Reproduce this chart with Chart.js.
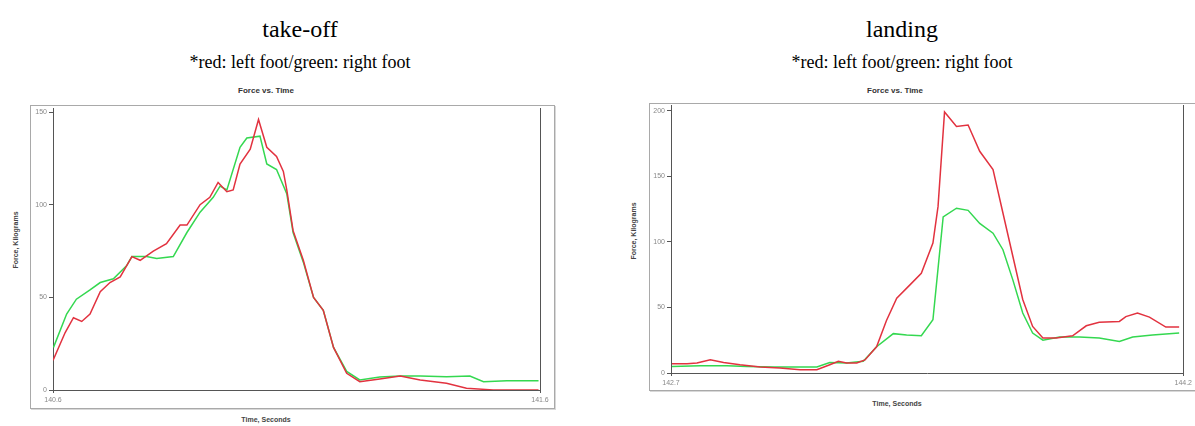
<!DOCTYPE html>
<html>
<head>
<meta charset="utf-8">
<script src="https://cdn.jsdelivr.net/npm/chart.js@4.4.1/dist/chart.umd.min.js"></script>
<style>
  html, body { margin:0; padding:0; background:#fff; width:1195px; height:426px; overflow:hidden; }
  .abs { position:absolute; }
  .h1 { font-family:"Liberation Serif", "Times New Roman", serif; font-size:24px; color:#000; white-space:nowrap; transform:translate(-50%,-50%); }
  .h2 { font-family:"Liberation Serif", "Times New Roman", serif; font-size:18px; color:#000; white-space:nowrap; transform:translate(-50%,-50%); }
  .ct { font-family:"Liberation Sans", Arial, sans-serif; font-size:8px; font-weight:bold; color:#333; white-space:nowrap; transform:translate(-50%,-50%); }
  .ax { font-family:"Liberation Sans", Arial, sans-serif; font-size:7px; font-weight:bold; color:#444; white-space:nowrap; transform:translate(-50%,-50%); }
  .yt { transform:translate(-50%,-50%) rotate(-90deg); }
  .frame { border:1px solid #a9a9a9; box-shadow:1px 1px 0 #d8d8d8; }
</style>
</head>
<body>
<!-- left panel -->
<div class="abs h1" style="left:300px; top:29px;">take-off</div>
<div class="abs h2" style="left:300px; top:62px;">*red: left foot/green: right foot</div>
<div class="abs ct" style="left:266px; top:90px;">Force vs. Time</div>
<div class="abs frame" style="left:30px; top:105px; width:523px; height:302px;"></div>
<div class="abs ax yt" style="left:15px; top:240px;">Force, Kilograms</div>
<div class="abs ax" style="left:266px; top:419px;">Time, Seconds</div>
<canvas id="c1" class="abs" style="left:0; top:0;" width="597" height="426"></canvas>

<!-- right panel -->
<div class="abs h1" style="left:902px; top:29px;">landing</div>
<div class="abs h2" style="left:902px; top:62px;">*red: left foot/green: right foot</div>
<div class="abs ct" style="left:895px; top:90px;">Force vs. Time</div>
<div class="abs frame" style="left:649px; top:103px; width:545px; height:286px;"></div>
<div class="abs ax yt" style="left:633px; top:231px;">Force, Kilograms</div>
<div class="abs ax" style="left:897px; top:403px;">Time, Seconds</div>
<canvas id="c2" class="abs" style="left:597px; top:0;" width="598" height="426"></canvas>

<script>
// ---------- take-off data ----------
const takeoffRedTime = [140.600,140.625,140.642,140.659,140.676,140.697,140.717,140.738,140.762,140.779,140.806,140.833,140.861,140.875,140.902,140.922,140.939,140.957,140.970,140.984,141.005,141.022,141.039,141.059,141.073,141.080,141.093,141.114,141.135,141.155,141.176,141.203,141.230,141.271,141.313,141.354,141.408,141.449,141.504,141.597];
const takeoffRedForce = [16,31,39,37,41,53,58,61,72,70,75,79,89,89,100,104,112,107,108,122,130,146,131,126,118,108,86,70,50,43,23,9,4.5,6,7.5,5.4,3.6,1,0,0];
const takeoffGreenTime = [140.601,140.628,140.648,140.676,140.697,140.724,140.751,140.762,140.792,140.813,140.847,140.875,140.902,140.929,140.943,140.957,140.984,140.998,141.025,141.039,141.059,141.080,141.093,141.114,141.135,141.155,141.176,141.203,141.230,141.271,141.313,141.354,141.408,141.456,141.484,141.532,141.597];
const takeoffGreenForce = [23,41,49,54,58,60,67,72,72,71,72,85,96,104,110,108,131,136,137,122,119,106,85,69,50,43,23,10,5.4,7,7.5,7.5,7.2,7.5,4.5,5,5];
const takeoffYTicks = [0,50,100,150];
const takeoffXTickLabels = ['140.6','141.6'];

// ---------- landing data ----------
const landingRedTime = [142.703,142.747,142.776,142.815,142.854,142.902,142.961,143.019,143.078,143.127,143.165,143.190,143.214,143.244,143.268,143.302,143.331,143.361,143.399,143.433,143.467,143.482,143.501,143.536,143.570,143.604,143.643,143.672,143.701,143.730,143.759,143.789,143.828,143.876,143.916,143.954,144.013,144.032,144.066,144.101,144.149,144.188];
const landingRedForce = [7,7,7.6,10,8,6.3,4.6,3.8,2.5,2.5,6.3,8.9,7.6,7.6,10,20,40,57,67,76,99,127,199,188,189,169,155,122,89,56,35.5,26.6,26.6,28.4,36,38.6,39.3,43,45.7,42.6,35,35];
const landingGreenTime = [142.703,142.786,142.864,142.922,143.000,143.078,143.127,143.165,143.214,143.263,143.302,143.351,143.390,143.433,143.467,143.497,143.536,143.570,143.604,143.643,143.672,143.701,143.730,143.759,143.789,143.838,143.896,143.954,144.013,144.052,144.110,144.188];
const landingGreenForce = [5,5.6,5.6,5,4.6,4.6,4.6,8,7.6,8.9,20,30,29,28.4,40.6,119,125.6,124,114,106.6,94,71,45.7,30.5,25,27.4,27.4,26.6,24,27.4,29,30.5];
const landingYTicks = [0,50,100,150,200];
const landingXTickLabels = ['142.7','144.2'];

const RED = '#e2323f';
const GREEN = '#34d850';
const AXIS = '#555';
const TICKFONT = { family: 'Liberation Sans, Arial, sans-serif', size: 7 };

function pts(t, f) { return t.map((x, i) => ({ x: x, y: f[i] })); }

function makeChart(id, cfg) {
  const ctx = document.getElementById(id).getContext('2d');
  return new Chart(ctx, {
    type: 'line',
    data: {
      datasets: [
        { label: 'left foot', data: pts(cfg.rt, cfg.rf), borderColor: RED, borderWidth: 1.5, pointRadius: 0, tension: 0, fill: false },
        { label: 'right foot', data: pts(cfg.gt, cfg.gf), borderColor: GREEN, borderWidth: 1.5, pointRadius: 0, tension: 0, fill: false }
      ]
    },
    options: {
      responsive: false,
      animation: false,
      events: [],
      layout: { padding: { top: cfg.top, left: 0, right: 0, bottom: 0 } },
      plugins: { legend: { display: false }, title: { display: false }, tooltip: { enabled: false } },
      scales: {
        x: {
          type: 'linear',
          min: cfg.xmin, max: cfg.xmax,
          afterBuildTicks: (axis) => { axis.ticks = [{ value: cfg.xmin }, { value: cfg.xmax }]; },
          afterFit: (s) => { s.height = cfg.xh; },
          ticks: {
            autoSkip: false, maxRotation: 0, padding: 3, color: '#888', font: TICKFONT,
            callback: (v, i) => cfg.xLabels[i]
          },
          grid: { display: true, drawOnChartArea: false, tickLength: 3, color: AXIS },
          border: { display: true, color: AXIS, width: 1 }
        },
        y: {
          type: 'linear', position: 'left',
          min: 0, max: cfg.ymax,
          afterBuildTicks: (axis) => { axis.ticks = cfg.yTicks.map(v => ({ value: v })); },
          afterFit: (s) => { s.width = cfg.yw; },
          ticks: { autoSkip: false, padding: 2, color: '#888', font: TICKFONT },
          grid: { display: true, drawOnChartArea: false, tickLength: 4, color: AXIS },
          border: { display: true, color: AXIS, width: 1 }
        },
        y2: {
          type: 'linear', position: 'right',
          min: 0, max: cfg.ymax,
          afterFit: (s) => { s.width = cfg.y2w; },
          ticks: { display: false },
          grid: { display: false },
          border: { display: true, color: AXIS, width: 1 }
        }
      }
    }
  });
}

makeChart('c1', {
  rt: takeoffRedTime, rf: takeoffRedForce, gt: takeoffGreenTime, gf: takeoffGreenForce,
  xmin: 140.6, xmax: 141.6, ymax: 152.2, yTicks: takeoffYTicks, xLabels: takeoffXTickLabels,
  top: 108, xh: 36, yw: 53, y2w: 57
});
makeChart('c2', {
  rt: landingRedTime, rf: landingRedForce, gt: landingGreenTime, gf: landingGreenForce,
  xmin: 142.7, xmax: 144.2, ymax: 204.3, yTicks: landingYTicks, xLabels: landingXTickLabels,
  top: 105, xh: 53, yw: 74, y2w: 11
});
</script>
</body>
</html>
